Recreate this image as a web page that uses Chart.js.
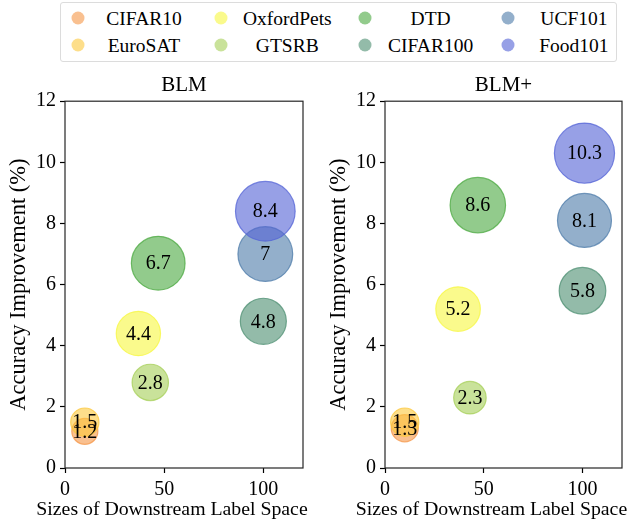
<!DOCTYPE html>
<html><head><meta charset="utf-8">
<script src="https://cdn.jsdelivr.net/npm/chart.js@4.4.1/dist/chart.umd.min.js"></script>
<style>
html,body{margin:0;padding:0;background:#fff;}
body{width:628px;height:523px;position:relative;overflow:hidden;font-family:"Liberation Serif","Times New Roman",serif;}
#legend{position:absolute;left:60px;top:2px;width:557px;height:60px;border:1px solid #dcdcdc;border-radius:3px;box-sizing:border-box;}
.dot{position:absolute;width:13px;height:13px;border-radius:50%;transform:translate(-50%,-50%);}
.lbl{position:absolute;font-size:19.5px;line-height:1;color:#000;white-space:nowrap;transform:translate(-50%,-50%);}
.wrap{position:absolute;top:62px;height:461px;}
canvas{display:block;}
</style></head><body>
<div id="legend"></div>
<div class="wrap" style="left:0;width:340px"><canvas id="c1" width="340" height="461"></canvas></div>
<div class="wrap" style="left:300px;width:328px"><canvas id="c2" width="328" height="461"></canvas></div>
<script>
// ---- data ----
const categories = ['CIFAR10','EuroSAT','OxfordPets','GTSRB','DTD','CIFAR100','UCF101','Food101'];
const labelSpaceSizes = [10, 10, 37, 43, 47, 100, 101, 101];
const blmImprovement = [1.2, 1.5, 4.4, 2.8, 6.7, 4.8, 7, 8.4];
const blmPlusImprovement = [1.3, 1.5, 5.2, 2.3, 8.6, 5.8, 8.1, 10.3];
const xTickValues = [0, 50, 100];
const yTickValues = [0, 2, 4, 6, 8, 10, 12];
const panelTitles = ['BLM', 'BLM+'];
const xAxisTitle = 'Sizes of Downstream Label Space';
const yAxisTitle = 'Accuracy Improvement (%)';

// ---- styles ----
const baseColors = [
  [245,150,70],[252,200,60],[247,247,64],[165,207,87],
  [73,168,63],[75,142,112],[75,122,168],[82,97,213]
];
const FONT = '"Liberation Serif","Times New Roman",serif';
const rgba = (c,a) => `rgba(${c[0]},${c[1]},${c[2]},${a})`;

// ---- legend (HTML) ----
const leg = document.getElementById('legend');
categories.forEach((c,i) => {
  const col = Math.floor(i/2), row = i%2;
  const mx = 17 + col*143.3, my = 15 + row*27;
  const d = document.createElement('div');
  d.className = 'dot';
  d.style.left = mx + 'px'; d.style.top = my + 'px';
  d.style.background = rgba(baseColors[i], 0.6);
  leg.appendChild(d);
  const t = document.createElement('div');
  t.className = 'lbl';
  t.textContent = c;
  t.style.left = (mx + 66) + 'px'; t.style.top = (my + 1) + 'px';
  leg.appendChild(t);
});

// ---- plugins ----
const framePlugin = {
  id: 'frame',
  afterDraw(chart) {
    const {ctx, chartArea: a} = chart;
    ctx.save();
    ctx.strokeStyle = '#262626';
    ctx.lineWidth = 1.2;
    ctx.strokeRect(a.left, a.top, a.right - a.left, a.bottom - a.top);
    // x axis title (drawn without width squeezing)
    ctx.font = '19.8px ' + FONT;
    ctx.fillStyle = '#000';
    ctx.textAlign = 'center';
    ctx.textBaseline = 'middle';
    ctx.fillText(xAxisTitle, (a.left + a.right) / 2 - 12, chart.height - 13);
    ctx.restore();
  }
};
const valueLabelPlugin = {
  id: 'valueLabels',
  afterDatasetsDraw(chart) {
    const {ctx} = chart;
    ctx.save();
    ctx.font = '20px ' + FONT;
    ctx.fillStyle = '#000';
    ctx.textAlign = 'center';
    ctx.textBaseline = 'middle';
    chart.data.datasets.forEach((ds, di) => {
      const meta = chart.getDatasetMeta(di);
      meta.data.forEach((el, j) => {
        ctx.fillText(String(ds.data[j].y), el.x, el.y + 1);
      });
    });
    ctx.restore();
  }
};

function makeChart(id, title, values, rA, rB, yAxisWidth, yTitlePad, padRight) {
  return new Chart(document.getElementById(id), {
    type: 'bubble',
    data: {
      datasets: categories.map((c, i) => ({
        label: c,
        data: [{x: labelSpaceSizes[i], y: values[i], r: Math.sqrt(rA*values[i] + rB)}],
        backgroundColor: rgba(baseColors[i], 0.6),
        borderColor: rgba(baseColors[i], 0.75),
        borderWidth: 1.2,
        radius: 0,
        hoverRadius: 0,
        clip: false,
        order: categories.length - i
      }))
    },
    options: {
      responsive: false,
      animation: false,
      events: [],
      layout: {autoPadding: false, padding: {left: 0, right: padRight, top: 0, bottom: 0}},
      plugins: {
        legend: {display: false},
        tooltip: {enabled: false},
        title: {display: true, fullSize: false, text: title, color: '#000',
          font: {family: FONT, size: 21, weight: 'normal'}, padding: {top: 11, bottom: 3}}
      },
      scales: {
        x: {
          type: 'linear', min: 0, max: 120,
          afterBuildTicks: s => { s.ticks = xTickValues.map(v => ({value: v})); },
          afterFit: s => { s.height = 55; s.paddingLeft = 0; s.paddingRight = 0; },
          grid: {drawOnChartArea: false, drawTicks: true, tickLength: 5, tickColor: '#000', tickWidth: 1.2},
          border: {display: false},
          ticks: {font: {family: FONT, size: 20}, color: '#000', padding: 5, maxRotation: 0, autoSkip: false},
          title: {display: false}
        },
        y: {
          type: 'linear', min: 0, max: 12,
          afterBuildTicks: s => { s.ticks = yTickValues.map(v => ({value: v})); },
          afterFit: s => { s.width = yAxisWidth; s.paddingTop = 0; s.paddingBottom = 0; },
          grid: {drawOnChartArea: false, drawTicks: true, tickLength: 5, tickColor: '#000', tickWidth: 1.2},
          border: {display: false},
          ticks: {font: {family: FONT, size: 20}, color: '#000', padding: 4, autoSkip: false},
          title: {display: true, text: yAxisTitle, color: '#000', font: {family: FONT, size: 22.5}, padding: {top: yTitlePad, bottom: 0}}
        }
      }
    },
    plugins: [valueLabelPlugin, framePlugin]
  });
}

makeChart('c1', panelTitles[0], blmImprovement, 100, 50, 65, 6, 37);
makeChart('c2', panelTitles[1], blmPlusImprovement, 80, 80, 85, 26, 6);
</script>
</body></html>
